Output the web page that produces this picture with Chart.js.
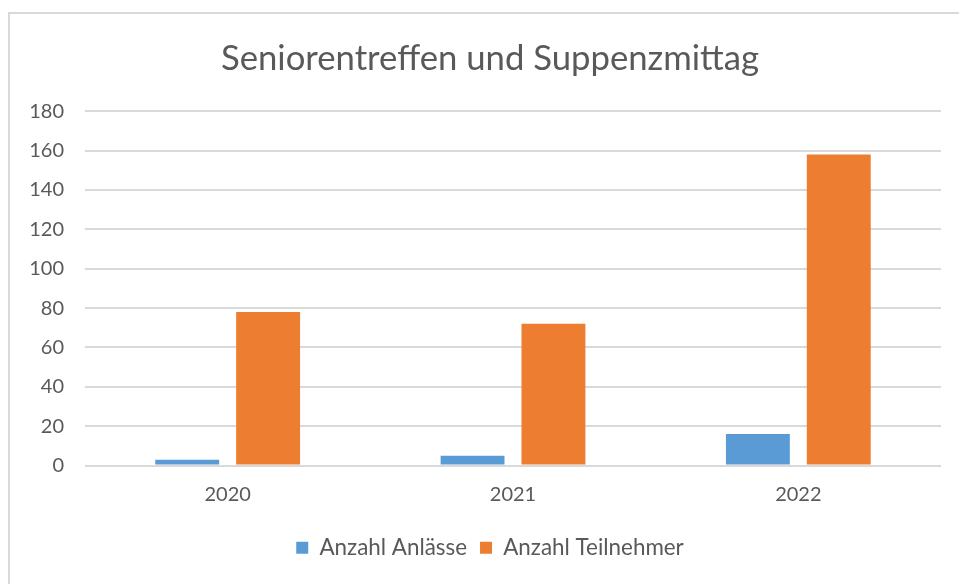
<!DOCTYPE html>
<html><head><meta charset="utf-8">
<script src="https://cdn.jsdelivr.net/npm/chart.js@4/dist/chart.umd.min.js"></script>
<style>
html,body{margin:0;padding:0;background:#fff;width:959px;height:584px;overflow:hidden;}
#frame{position:absolute;left:8px;top:12px;width:1000px;height:700px;border-left:2px solid #d9d9d9;border-top:2px solid #d9d9d9;}
#wrap{position:absolute;left:0;top:0;width:959px;height:584px;}
</style></head>
<body>
<div id="frame"></div>
<div id="wrap"><canvas id="c" width="959" height="584"></canvas></div>
<script>
const categories = ["2020", "2021", "2022"];
const anzahlAnlaesse = [3, 5, 16];
const anzahlTeilnehmer = [78, 72, 158];
const yTicks = [0, 20, 40, 60, 80, 100, 120, 140, 160, 180];
const seriesNames = ["Anzahl Anlässe", "Anzahl Teilnehmer"];
const titleText = "Seniorentreffen und Suppenzmittag";

const FONT = "Lato, 'Open Sans', sans-serif";
const widenYLabelArea = {
  id: 'widenYLabelArea',
  afterLayout(chart) { chart.scales.y.left = 0; }
};
new Chart(document.getElementById('c'), {
  type: 'bar',
  data: {
    labels: categories,
    datasets: [
      {label: seriesNames[0], data: anzahlAnlaesse, backgroundColor: '#5B9BD5', categoryPercentage: 0.567, barPercentage: 0.79},
      {label: seriesNames[1], data: anzahlTeilnehmer, backgroundColor: '#ED7D31', categoryPercentage: 0.567, barPercentage: 0.79}
    ]
  },
  plugins: [widenYLabelArea],
  options: {
    responsive: false,
    animation: false,
    layout: {padding: {left: 39, right: 18, top: 38, bottom: 15}},
    plugins: {
      title: {display: true, text: titleText, color: '#595959', font: {family: FONT, size: 34.7, weight: 'normal'}, padding: {top: 0, bottom: 31.6}},
      legend: {position: 'bottom', labels: {color: '#595959', font: {family: FONT, size: 22.4}, boxWidth: 12, boxHeight: 12, padding: 13}},
      tooltip: {enabled: false}
    },
    scales: {
      x: {
        grid: {display: false, drawTicks: false},
        border: {display: false},
        ticks: {color: '#595959', font: {family: FONT, size: 20}, padding: 17}
      },
      y: {
        min: 0, max: 180,
        afterBuildTicks: (s) => { s.ticks = yTicks.map(v => ({value: v})); },
        afterFit: (s) => { s.width = 46; },
        grid: {color: '#d9d9d9', lineWidth: 2, drawTicks: false},
        border: {display: false},
        ticks: {color: '#595959', font: {family: FONT, size: 20}, padding: 21}
      }
    }
  }
});
</script>
</body></html>
